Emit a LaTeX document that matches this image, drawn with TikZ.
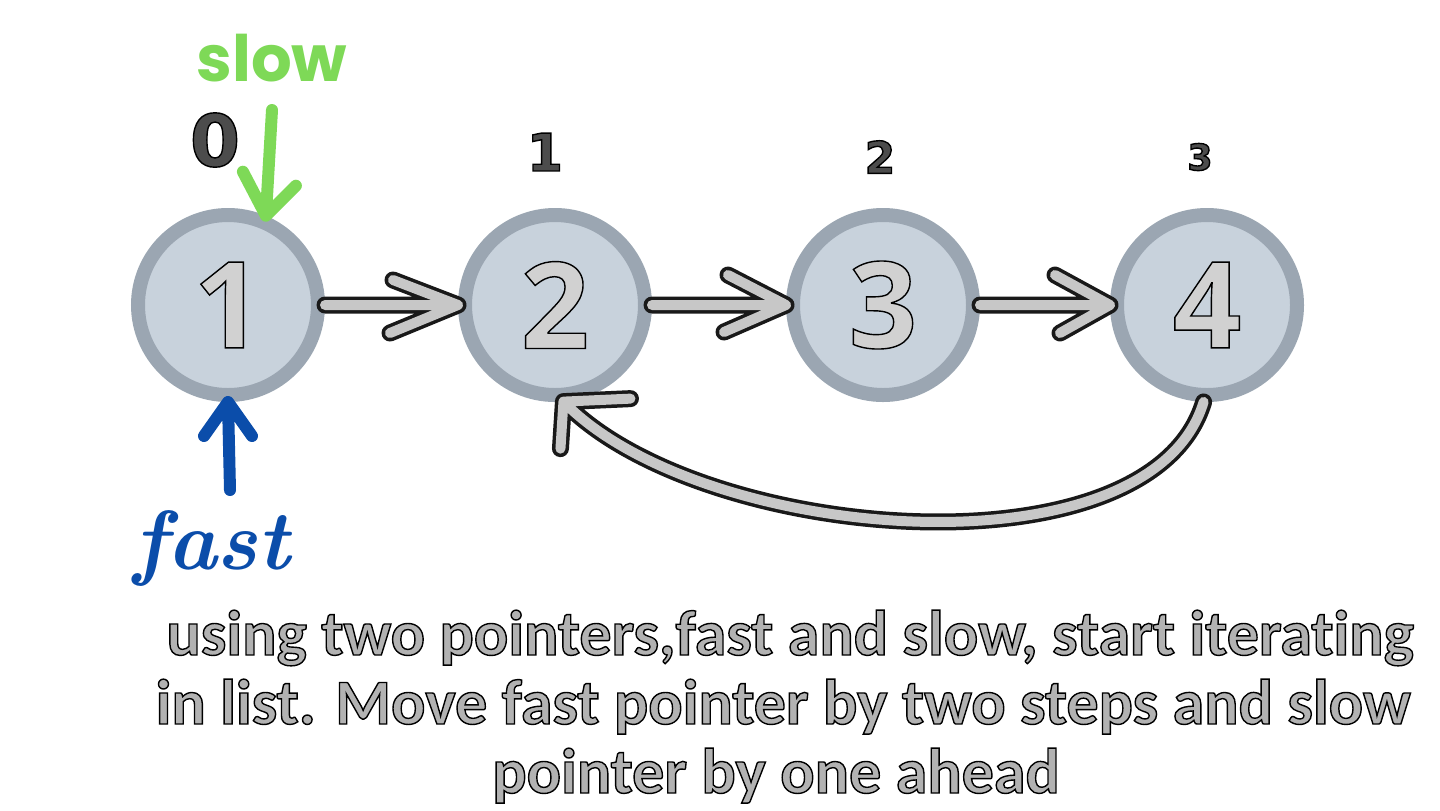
\documentclass[tikz,border=0pt]{standalone}
\usepackage{fontspec}
\setmainfont{Carlito}[Ligatures=NoCommon]
\newfontfamily\numfont{Open Sans}
\newfontfamily\slowfont{Poppins}
\newfontfamily\lblfont{DejaVu Sans}
\usetikzlibrary{calc}
\definecolor{ringc}{HTML}{9BA6B2}
\definecolor{innerc}{HTML}{C8D2DC}
\definecolor{slowgreen}{HTML}{7ED957}
\definecolor{fastblue}{HTML}{0B4DAA}
\newcommand\outltext[1]{\special{pdf:literal direct 0 0 0 RG 0.7 w 2 Tr}#1\special{pdf:literal direct 0 Tr}}
\tikzset{
  ring/.style={circle, draw=ringc, line width=7pt, fill=innerc, minimum size=90pt, inner sep=0pt,
    text=black!18, font=\numfont\bfseries\fontsize{60}{60}\selectfont},
  sk/.style={draw=black!22, line width=5pt, line cap=round, line join=round,
    preaction={draw=black!90, line width=8.5pt, line cap=round, line join=round}},
  greenarrow/.style={draw=slowgreen, line width=6pt, line cap=round, line join=round},
  bluearrow/.style={draw=fastblue, line width=6pt, line cap=round, line join=round},
  lbl/.style={text=black!70, font=\lblfont\bfseries},
  desc/.style={anchor=base, text=black!30, font=\bfseries\fontsize{32}{35}\selectfont, inner sep=0pt}
}
\begin{document}
\begin{tikzpicture}[x=0.5pt,y=-0.5pt]
\useasboundingbox[fill=white] (0,0) rectangle (1440,810);
% nodes
\node[ring] (n1) at (228,305) {\outltext{1}};
\node[ring] (n2) at (555,305) {\outltext{2}};
\node[ring] (n3) at (883,305) {\outltext{3}};
\node[ring] (n4) at (1207,305) {\outltext{4}};
% index labels
\node[lbl, font=\lblfont\bfseries\fontsize{36}{36}\selectfont] (l0) at (215,140) {\outltext{0}};
\node[lbl, font=\lblfont\bfseries\fontsize{26}{26}\selectfont] (l1) at (545,152) {\outltext{1}};
\node[lbl, font=\lblfont\bfseries\fontsize{22}{22}\selectfont] (l2) at (880,157) {\outltext{2}};
\node[lbl, font=\lblfont\bfseries\fontsize{18}{18}\selectfont] (l3) at (1200,157) {\outltext{3}};
% connectors
\draw[sk] (n1.east) -- (n2.west) -- ++(-65,-25) (n2.west) -- ++(-68,28);
\draw[sk] (n2.east) -- (n3.west) -- ++(-58,-30) (n3.west) -- ++(-62,27);
\draw[sk] (n3.east) -- (n4.west) -- ++(-55,-30) (n4.west) -- ++(-50,28);
\draw[sk] (n4.-92) .. controls (1150,580) and (700,543) .. (n2.-85) -- ++(67,-3) (n2.-85) -- ++(-3,47);
% slow pointer
\node[text=slowgreen, font=\slowfont\bfseries\fontsize{32}{32}\selectfont] (slow) at (272,58) {slow};
\coordinate (slowtail) at (272,110);
\draw[greenarrow] (slowtail) -- (n1.67) -- ++(-23,-44) (n1.67) -- ++(30,-30);
% fast pointer
\node[text=fastblue, font=\fontspec{Latin Modern Roman}\bfseries\itshape\fontsize{42}{42}\selectfont] (fast) at (212,548) {fast};
\coordinate (fasttail) at (230,490);
\draw[bluearrow] (fasttail) -- (n1.south) -- ++(-24,34) (n1.south) -- ++(24,34);
% description
\node[desc] (d1) at (790,655) {\outltext{using two pointers,fast and slow, start iterating}};
\node[desc] (d2) at (783,724) {\outltext{in list. Move fast pointer by two steps and slow}};
\node[desc] (d3) at (776,793) {\outltext{pointer by one ahead}};
\end{tikzpicture}
\end{document}
